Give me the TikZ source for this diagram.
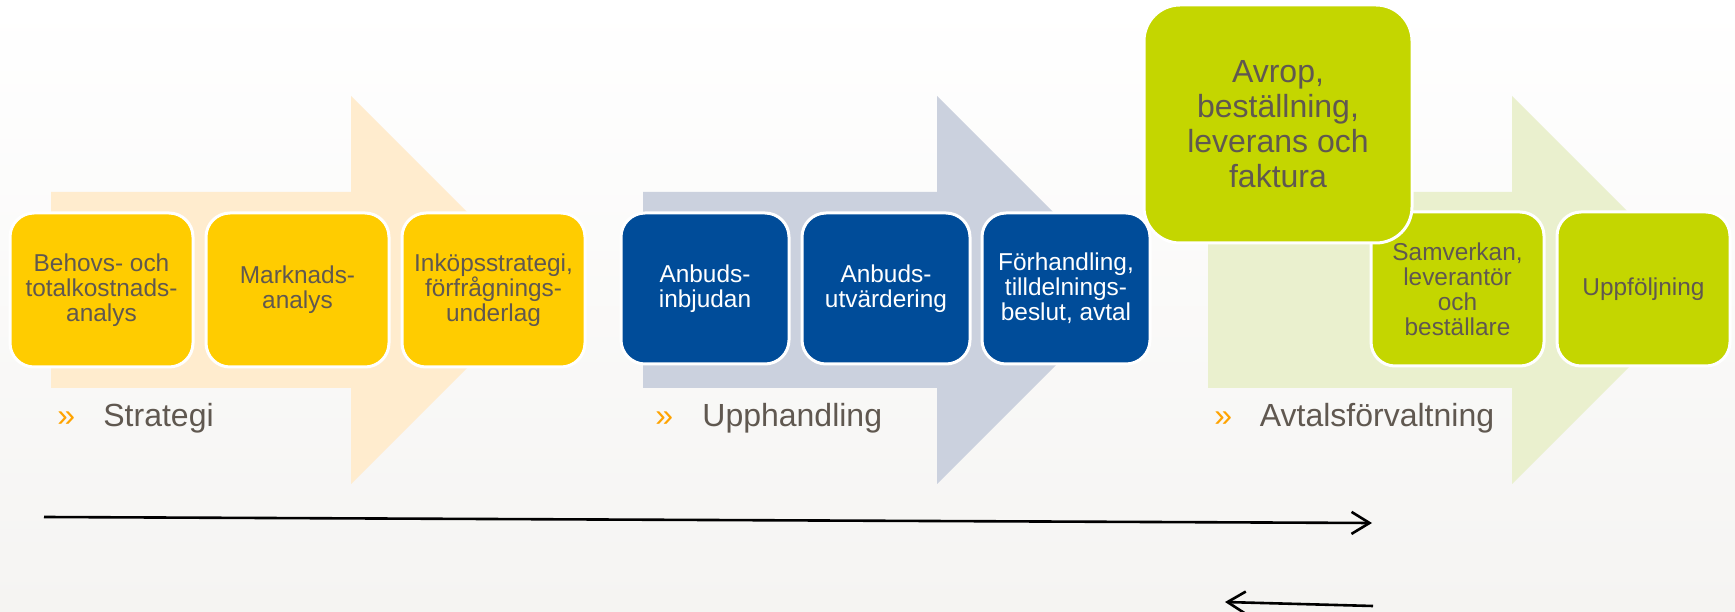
\documentclass[tikz,border=0pt]{standalone}
\usepackage{fontspec}
\setmainfont{Liberation Sans}
\usetikzlibrary{arrows.meta}
\definecolor{bggray}{RGB}{245,244,242}
\definecolor{gold}{RGB}{255,204,0}
\definecolor{goldpale}{RGB}{255,236,206}
\definecolor{navyblue}{RGB}{0,76,153}
\definecolor{navypale}{RGB}{203,209,222}
\definecolor{lime}{RGB}{196,214,0}
\definecolor{limepale}{RGB}{234,240,206}
\definecolor{textgray}{RGB}{96,88,80}
\definecolor{chevroncol}{RGB}{255,163,0}
\begin{document}
\begin{tikzpicture}[>={Straight Barb[length=9bp,width=11bp]},line join=bevel,
  phase/.style={draw=white,line width=1.5bp,rounded corners=12bp,align=center,inner sep=0pt,text=textgray,font=\fontsize{12.2bp}{12.5bp}\selectfont},
  yellowbox/.style={phase,fill=gold,minimum width=91.5bp,minimum height=77bp},
  bluebox/.style={phase,fill=navyblue,text=white,minimum width=84bp,minimum height=75.5bp},
  greenbox/.style={phase,fill=lime,minimum width=86.5bp,minimum height=77bp},
  stagelabel/.style={anchor=base west,inner sep=0pt,text=textgray,font=\fontsize{16bp}{18bp}\selectfont},
  chevron/.style={stagelabel,text=chevroncol},
  ]
%%
\useasboundingbox (0bp,0bp) rectangle (867.5bp,306bp);
  \shade [top color=white,bottom color=bggray] (0bp,0bp) rectangle (867.5bp,306bp);
  \fill [goldpale] (25.5bp,210bp) -- (175.5bp,210bp) -- (175.5bp,258bp) -- (272.5bp,161bp) -- (175.5bp,64bp) -- (175.5bp,112bp) -- (25.5bp,112bp) -- cycle;
  \fill [navypale] (321.5bp,210bp) -- (468.5bp,210bp) -- (468.5bp,258bp) -- (565.5bp,161bp) -- (468.5bp,64bp) -- (468.5bp,112bp) -- (321.5bp,112bp) -- cycle;
  \fill [limepale] (604bp,210bp) -- (756bp,210bp) -- (756bp,258bp) -- (853bp,161bp) -- (756bp,64bp) -- (756bp,112bp) -- (604bp,112bp) -- cycle;
%
\node (node_0) at (50.75bp,161bp) [yellowbox] {Behovs- och\\totalkostnads-\\analys};
  \node (node_1) at (148.75bp,161bp) [yellowbox] {Marknads-\\analys};
  \node (node_2) at (246.75bp,161bp) [yellowbox] {Inköpsstrategi,\\förfrågnings-\\underlag};
  \node (node_3) at (352.5bp,161.75bp) [bluebox] {Anbuds-\\inbjudan};
  \node (node_4) at (443bp,161.75bp) [bluebox] {Anbuds-\\utvärdering};
  \node (node_5) at (533bp,161.75bp) [bluebox] {Förhandling,\\tilldelnings-\\beslut, avtal};
  \node (node_7) at (728.75bp,161.5bp) [greenbox] {Samverkan,\\leverantör\\och\\beställare};
  \node (node_8) at (821.75bp,161.5bp) [greenbox] {Uppföljning};
  \node (node_6) at (639bp,244bp) [greenbox,minimum width=134bp,minimum height=119bp,rounded corners=18bp,font=\fontsize{16bp}{17.5bp}\selectfont] {Avrop,\\beställning,\\leverans och\\faktura};
%
\node (node_9) at (28.5bp,92.5bp) [chevron] {»};
  \node (node_10) at (51.5bp,92.5bp) [stagelabel] {Strategi};
  \node (node_11) at (327.5bp,92.5bp) [chevron] {»};
  \node (node_12) at (351bp,92.5bp) [stagelabel] {Upphandling};
  \node (node_13) at (607bp,92.5bp) [chevron] {»};
  \node (node_14) at (629.75bp,92.5bp) [stagelabel] {Avtalsförvaltning};
%
\coordinate (node_15) at (22bp,47.5bp);
  \coordinate (node_16) at (686bp,44.5bp);
  \draw [black,->,line width=1.3bp] (node_15) -- (node_16);
  \coordinate (node_17) at (686.5bp,3bp);
  \coordinate (node_18) at (612.5bp,5bp);
  \draw [black,->,line width=1.3bp] (node_17) -- (node_18);
%
\end{tikzpicture}
\end{document}
